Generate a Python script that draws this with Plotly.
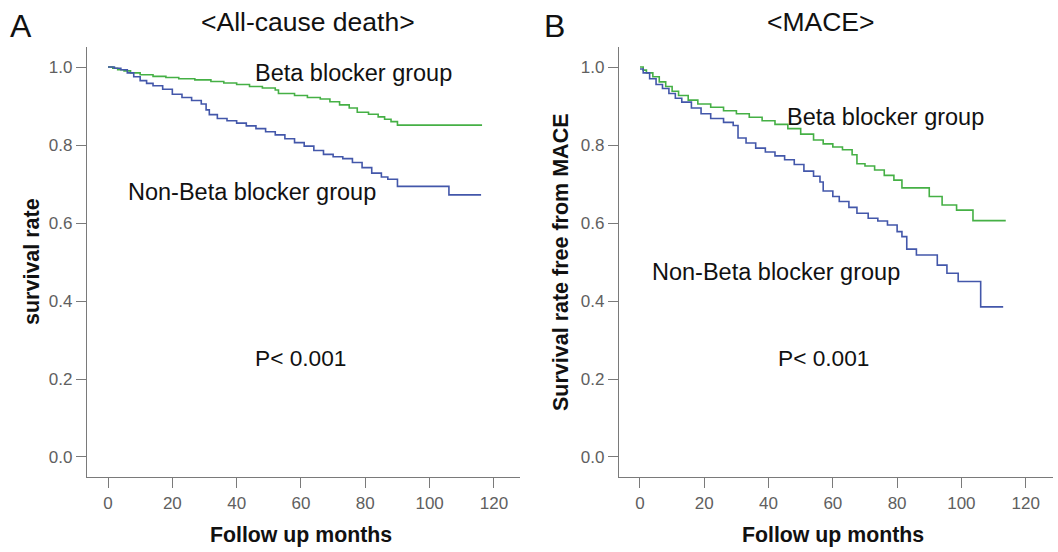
import plotly.graph_objects as go

# ---------------- data ----------------
a_bb_t = [0, 1.5, 3, 5, 7, 10, 14, 18, 22, 27, 32, 36, 40, 44, 48, 52, 53, 58, 62, 66, 69, 72, 75, 77.5, 81, 84, 86, 88, 90, 116.3]
a_bb_s = [1.0, 0.997, 0.993, 0.99, 0.985, 0.98, 0.976, 0.973, 0.970, 0.967, 0.963, 0.959, 0.955, 0.950, 0.946, 0.941, 0.932, 0.927, 0.922, 0.918, 0.911, 0.903, 0.895, 0.884, 0.879, 0.872, 0.866, 0.860, 0.851, 0.851]

a_nb_t = [0, 2, 4, 6, 8, 10, 12, 14, 17, 20, 23, 26, 29, 30.5, 31.5, 34, 37, 40, 43, 46, 49, 52, 55, 58, 61, 64, 67, 70, 73, 76, 79, 82, 85, 87, 90, 106, 116]
a_nb_s = [1.0, 0.997, 0.993, 0.985, 0.975, 0.965, 0.958, 0.952, 0.943, 0.930, 0.922, 0.914, 0.905, 0.890, 0.878, 0.868, 0.862, 0.856, 0.849, 0.842, 0.834, 0.826, 0.816, 0.806, 0.797, 0.786, 0.776, 0.770, 0.765, 0.755, 0.742, 0.728, 0.718, 0.712, 0.694, 0.672, 0.672]

b_bb_t = [0, 1, 2, 4, 6, 8, 10, 12, 15, 18, 22, 26, 30, 34, 38, 42, 46, 50, 54, 57, 60, 63, 66, 67.5, 70, 73, 76, 79, 81.5, 90, 94, 98.5, 103.6, 113.8]
b_bb_s = [1.0, 0.992, 0.985, 0.975, 0.962, 0.950, 0.938, 0.927, 0.915, 0.905, 0.897, 0.888, 0.880, 0.871, 0.862, 0.853, 0.842, 0.828, 0.813, 0.803, 0.795, 0.788, 0.775, 0.752, 0.746, 0.736, 0.722, 0.710, 0.690, 0.668, 0.646, 0.633, 0.606, 0.606]

b_nb_t = [0, 1, 3, 5, 7, 9, 11, 13, 16, 19, 22, 26, 29, 30.5, 33, 36, 39, 42, 45, 48, 51, 54, 56, 57, 60, 62, 65, 67.5, 71, 74, 77, 80, 81.5, 83, 86, 92.5, 95.5, 99, 106, 113]
b_nb_s = [0.995, 0.985, 0.970, 0.955, 0.945, 0.932, 0.920, 0.910, 0.895, 0.880, 0.868, 0.858, 0.850, 0.818, 0.805, 0.792, 0.782, 0.772, 0.762, 0.750, 0.733, 0.720, 0.705, 0.682, 0.668, 0.655, 0.640, 0.625, 0.612, 0.605, 0.595, 0.578, 0.565, 0.533, 0.518, 0.492, 0.471, 0.450, 0.385, 0.385]

x_ticks = [0, 20, 40, 60, 80, 100, 120]
y_ticks = [0.0, 0.2, 0.4, 0.6, 0.8, 1.0]

GREEN = "#45b045"
BLUE = "#4357aa"
FONT = "Liberation Sans, Arial, sans-serif"

W, H = 1058, 552

def px(x):
    return x / W

def py(y):
    return 1 - y / H

fig = go.Figure()

for t, s, col, xa, ya in [
    (a_bb_t, a_bb_s, GREEN, "x", "y"),
    (a_nb_t, a_nb_s, BLUE, "x", "y"),
    (b_bb_t, b_bb_s, GREEN, "x2", "y2"),
    (b_nb_t, b_nb_s, BLUE, "x2", "y2"),
]:
    fig.add_trace(go.Scatter(x=t, y=s, mode="lines", line=dict(color=col, width=1.6, shape="hv"),
                             xaxis=xa, yaxis=ya, showlegend=False, hoverinfo="skip"))

axis_common = dict(showgrid=False, zeroline=False, showline=True, linecolor="#7a7a7a", linewidth=1.2,
                   ticks="outside", ticklen=10, tickwidth=1.2, tickcolor="#7a7a7a",
                   tickfont=dict(family=FONT, size=17, color="#606060"))

yr = [-0.0513, 1.0513]
fig.update_layout(
    width=W, height=H,
    margin=dict(l=0, r=0, t=0, b=0),
    paper_bgcolor="white", plot_bgcolor="white",
    xaxis=dict(domain=[px(87), px(520)], range=[-6.53, 128.1], tickvals=x_ticks, anchor="y", **axis_common),
    yaxis=dict(domain=[py(477), py(47)], range=yr, tickvals=y_ticks, tickformat=".1f", anchor="x", **axis_common),
    xaxis2=dict(domain=[px(619), px(1053)], range=[-6.53, 128.5], tickvals=x_ticks, anchor="y2", **axis_common),
    yaxis2=dict(domain=[py(477), py(47)], range=yr, tickvals=y_ticks, tickformat=".1f", anchor="x2", **axis_common),
)

def ann(text, x, y, size, bold=False, angle=0, color="#111111"):
    fig.add_annotation(text=f"<b>{text}</b>" if bold else text, x=px(x), y=py(y), xref="paper", yref="paper",
                       showarrow=False, textangle=angle, xanchor="center", yanchor="middle",
                       font=dict(family=FONT, size=size, color=color))

# panel letters and titles
ann("A", 21, 26, 32)
ann("B", 554, 26, 32)
ann("&lt;All-cause death&gt;", 308, 22, 26.5)
ann("&lt;MACE&gt;", 821, 22, 26.5)

# axis titles
ann("Follow up months", 301, 535, 21.3, bold=True)
ann("Follow up months", 833, 535, 21.3, bold=True)
ann("survival rate", 32, 262, 21.5, bold=True, angle=-90)
ann("Survival rate free from MACE", 561, 262, 21.5, bold=True, angle=-90)

# in-plot labels
ann("Beta blocker group", 353, 73, 23.5)
ann("Non-Beta blocker group", 252, 192, 23.5)
ann("P&lt; 0.001", 300, 358, 22.7)
ann("Beta blocker group", 885, 117, 23.5)
ann("Non-Beta blocker group", 776, 272, 23.5)
ann("P&lt; 0.001", 823, 358, 22.7)

fig.write_html("out.html")
